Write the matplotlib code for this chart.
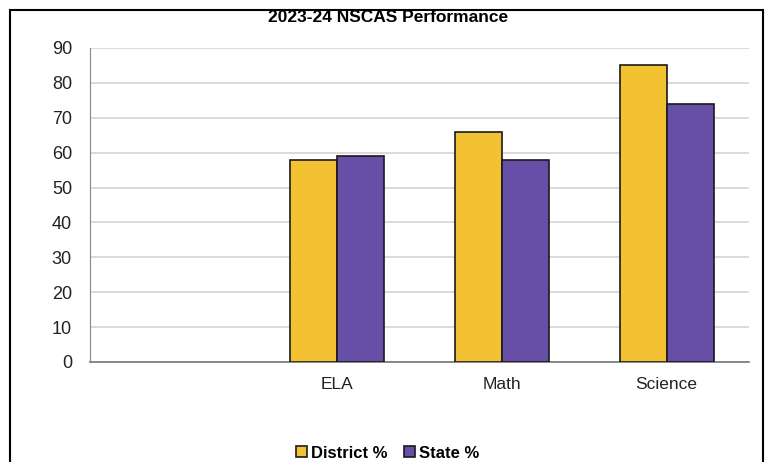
import matplotlib.pyplot as plt
import numpy as np
from matplotlib.patches import Rectangle

categories = ["", "ELA", "Math", "Science"]
district = [np.nan, 58, 66, 85]
state = [np.nan, 59, 58, 74]
series_names = ["District %", "State %"]
colors = ["#F2C232", "#674EA7"]
yticks = [0, 10, 20, 30, 40, 50, 60, 70, 80, 90]

plt.rcParams['font.family'] = ['Liberation Sans', 'DejaVu Sans']

W, H = 772, 462
fig = plt.figure(figsize=(W / 100, H / 100), dpi=100)
ax = fig.add_axes([90 / W, 1 - 362 / H, (749 - 90) / W, (362 - 48) / H])

x = np.arange(len(categories))
bw = 0.285
for vals, name, c, off in zip([district, state], series_names, colors, [-bw / 2, bw / 2]):
    ax.bar(x + off, vals, width=bw, color=c, edgecolor='#1a1a1a', linewidth=1.2,
           label=name, zorder=3)

ax.set_xlim(-0.5, len(categories) - 0.5)
ax.set_ylim(0, 90)
ax.set_yticks(yticks)
ax.set_xticks(x)
ax.set_xticklabels(categories)
ax.tick_params(axis='both', length=0, colors='#222222')
ax.tick_params(axis='y', pad=13, labelsize=13)
ax.tick_params(axis='x', pad=11, labelsize=12.5)
ax.grid(axis='y', color='#d4d4d4', linewidth=1.2, zorder=0)
for side in ['top', 'right']:
    ax.spines[side].set_visible(False)
ax.spines['left'].set_color('#888888')
ax.spines['bottom'].set_color('#777777')
ax.spines['bottom'].set_linewidth(1.2)

fig.text(388 / W, 1 - 17 / H, "2023-24 NSCAS Performance", ha='center', va='center',
         fontsize=12.5, fontweight='bold')

leg = fig.legend(loc='center', bbox_to_anchor=(388 / W, 1 - 453 / H), ncol=2, frameon=False,
                 prop={'weight': 'bold', 'size': 12}, handlelength=0.65, handleheight=0.65,
                 handletextpad=0.25, columnspacing=1.0)

fig.patches.append(Rectangle((10 / W, -0.1), (763 - 10) / W, 1.1 - 10 / H,
                             transform=fig.transFigure, fill=False,
                             edgecolor='black', linewidth=1.5))

fig.savefig('out.png', dpi=100)
